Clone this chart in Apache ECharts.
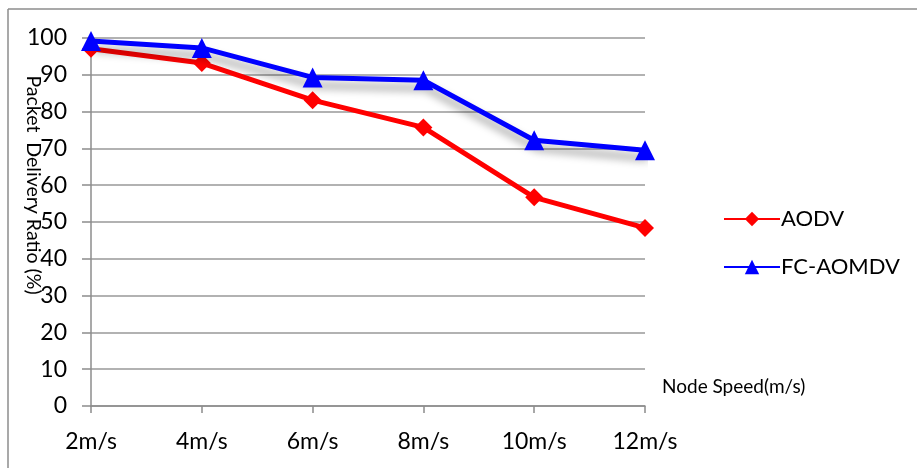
<!DOCTYPE html>
<html>
<head>
<meta charset="utf-8">
<script src="https://cdn.jsdelivr.net/npm/echarts@6/dist/echarts.min.js"></script>
<style>html,body{margin:0;padding:0;background:#fff}#c{width:917px;height:468px}</style>
</head>
<body>
<div id="c"></div>
<script>
var categories = ['2m/s', '4m/s', '6m/s', '8m/s', '10m/s', '12m/s'];
var aodv = [97.1, 93.2, 83.1, 75.7, 56.7, 48.4];
var fcAomdv = [99.2, 97.3, 89.3, 88.5, 72.2, 69.5];
var yTicks = { min: 0, max: 100, interval: 10 };

var FONT = 'Lato, "Open Sans", sans-serif';
var chart = echarts.init(document.getElementById('c'));
chart.setOption({
  backgroundColor: '#fff',
  animation: false,
  grid: { left: 91, right: 272, top: 38, bottom: 62 },
  xAxis: {
    type: 'category',
    data: categories,
    boundaryGap: false,
    axisLine: { lineStyle: { color: '#8c8c8c', width: 1.5 } },
    axisTick: { alignWithLabel: true, length: 7, lineStyle: { color: '#8c8c8c', width: 1.5 } },
    axisLabel: { color: '#000', fontSize: 23, fontFamily: FONT, margin: 24 },
    splitLine: { show: false }
  },
  yAxis: {
    type: 'value',
    min: yTicks.min, max: yTicks.max, interval: yTicks.interval,
    axisLine: { show: true, lineStyle: { color: '#8c8c8c', width: 1.5 } },
    axisTick: { show: true, length: 9, lineStyle: { color: '#8c8c8c', width: 1.5 } },
    axisLabel: { color: '#000', fontSize: 23, fontFamily: FONT, margin: 24 },
    splitLine: { lineStyle: { color: '#999', width: 1.5 } }
  },
  legend: {
    orient: 'vertical',
    left: 718, top: 203,
    itemWidth: 56, itemHeight: 18, itemGap: 26,
    textStyle: { color: '#000', fontSize: 22, fontFamily: FONT, padding: [0,0,0,-4] },
    data: ['AODV', 'FC-AOMDV']
  },
  series: [
    {
      name: 'FC-AOMDV', type: 'line', data: fcAomdv, z: 3,
      symbol: 'triangle', symbolSize: 20,
      itemStyle: { color: '#0000ff' },
      lineStyle: { color: '#0000ff', width: 5, shadowColor: 'rgba(0,0,0,0.4)', shadowBlur: 8, shadowOffsetX: 3, shadowOffsetY: 8 }
    },
    {
      name: 'AODV', type: 'line', data: aodv, z: 2,
      symbol: 'diamond', symbolSize: 18,
      itemStyle: { color: '#ff0000' },
      lineStyle: { color: '#ff0000', width: 5 }
    }
  ],
  graphic: [
    { type: 'line', shape: { x1: 8, y1: 9, x2: 917, y2: 9 }, style: { stroke: '#8c8c8c', lineWidth: 1.5 } },
    { type: 'line', shape: { x1: 8, y1: 9, x2: 8, y2: 468 }, style: { stroke: '#8c8c8c', lineWidth: 1.5 } },
    { type: 'text', x: 33, y: 185, rotation: -Math.PI / 2, z: 10,
      style: { text: 'Packet  Delivery Ratio (%)', fontSize: 19.5, fontFamily: FONT, fill: '#000', textAlign: 'center', textVerticalAlign: 'middle' } },
    { type: 'text', left: 662, top: 377,
      style: { text: 'Node Speed(m/s)', fontSize: 19, fontFamily: FONT, fill: '#000' } }
  ]
});
</script>
</body>
</html>
